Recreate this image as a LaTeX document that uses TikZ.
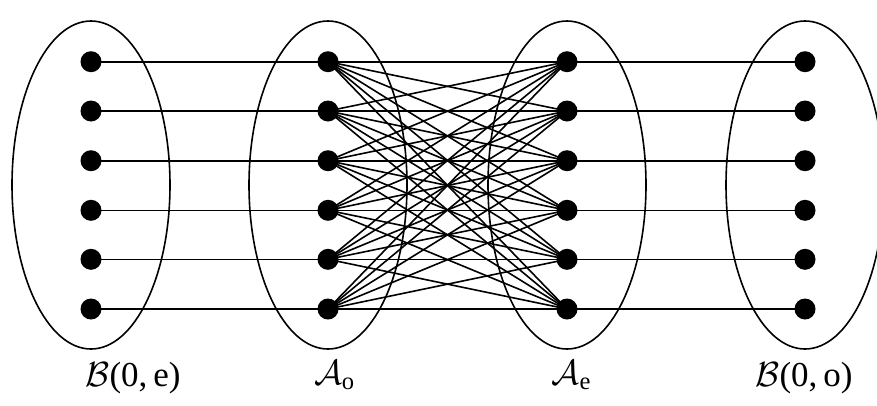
\documentclass[tikz,border=0pt]{standalone}
\usepackage{amsmath}
\usepackage{fontspec}
\setmainfont{Liberation Serif}
\begin{document}
\begin{tikzpicture}[x=1pt,y=-1pt,
  dotnode/.style={circle,fill=black,inner sep=0pt,minimum size=21pt},
  setell/.style={draw,line width=1.6pt},
  edge/.style={line width=1.6pt},
  lab/.style={scale=3.5,inner sep=0pt}]
\useasboundingbox (0,0) rectangle (877,405);
\clip (0,0) rectangle (877,405);
% ellipses
\draw[setell] (91,185) ellipse [x radius=79, y radius=164];
\draw[setell] (328,185) ellipse [x radius=79, y radius=164];
\draw[setell] (567,185) ellipse [x radius=79, y radius=164];
\draw[setell] (805,185) ellipse [x radius=79, y radius=164];
% dots
\foreach \i/\y in {1/61.7,2/111,3/160.7,4/210.3,5/259.3,6/309}{
  \node[dotnode] (a\i) at (91,\y) {};
  \node[dotnode] (b\i) at (328,\y) {};
  \node[dotnode] (c\i) at (567,\y) {};
  \node[dotnode] (d\i) at (805,\y) {};
}
% edges
\foreach \i in {1,...,6}{
  \draw[edge] (a\i.center) -- (b\i.center);
  \draw[edge] (c\i.center) -- (d\i.center);
  \foreach \j in {1,...,6}{
    \draw[edge] (b\i.center) -- (c\j.center);
  }
}
% labels
\node[lab] (l1) at (133,378) {$\mathcal{B}$(0,\,e)};
\node[lab] (l2) at (335,375) {$\mathcal{A}_{\text{o}}$};
\node[lab] (l3) at (572,375) {$\mathcal{A}_{\text{e}}$};
\node[lab] (l4) at (804,378) {$\mathcal{B}$(0,\,o)};
\end{tikzpicture}
\end{document}
